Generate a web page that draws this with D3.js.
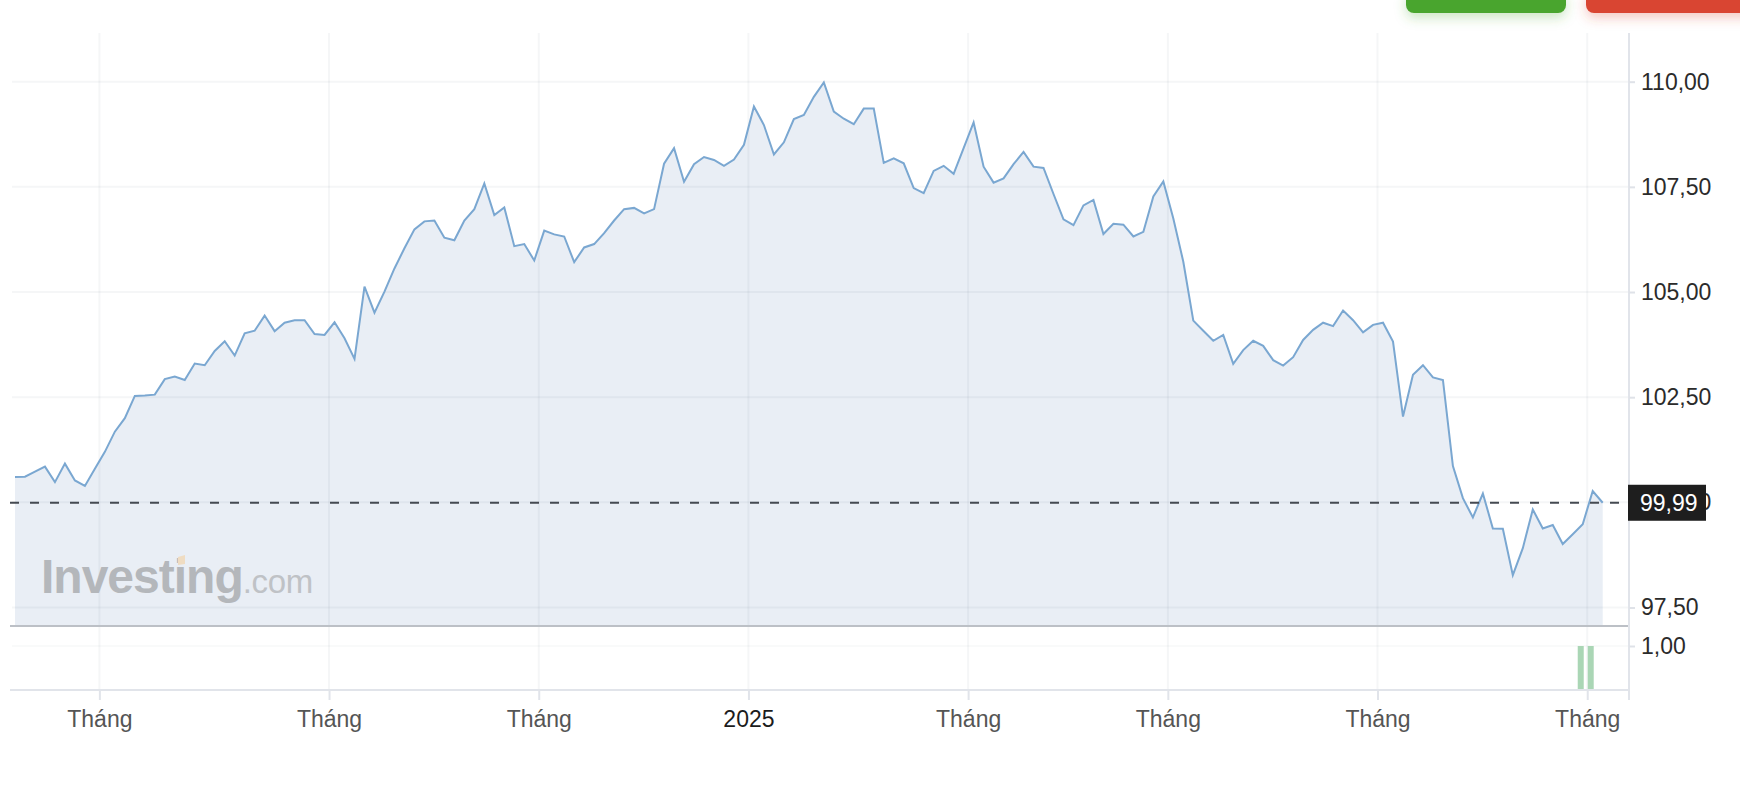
<!DOCTYPE html>
<html>
<head>
<meta charset="utf-8">
<script src="https://cdn.jsdelivr.net/npm/d3@7/dist/d3.min.js"></script>
<style>
  html, body { margin: 0; padding: 0; background: #fff; }
  svg { display: block; font-family: "Liberation Sans", Arial, Helvetica, sans-serif; }
</style>
</head>
<body>
<script>
// ---------------- DATA ----------------
const prices = [
  100.60,100.61,100.73,100.85,100.48,100.92,100.52,100.39,100.80,101.20,
  101.68,102.00,102.53,102.54,102.56,102.93,102.99,102.91,103.30,103.26,
  103.60,103.83,103.49,104.02,104.08,104.44,104.07,104.27,104.33,104.33,
  104.00,103.98,104.28,103.90,103.41,105.13,104.51,105.01,105.56,106.04,
  106.49,106.68,106.70,106.29,106.23,106.70,106.97,107.58,106.83,107.01,
  106.09,106.14,105.75,106.46,106.37,106.32,105.71,106.06,106.14,106.40,
  106.70,106.97,107.00,106.87,106.97,108.05,108.42,107.62,108.04,108.21,
  108.14,108.00,108.15,108.50,109.41,108.97,108.27,108.56,109.11,109.21,
  109.64,109.98,109.29,109.12,108.99,109.36,109.36,108.07,108.18,108.06,
  107.47,107.35,107.88,108.00,107.81,108.42,109.03,107.98,107.60,107.70,
  108.04,108.33,107.98,107.95,107.33,106.73,106.59,107.06,107.19,106.38,
  106.62,106.60,106.32,106.43,107.27,107.63,106.75,105.72,104.32,104.08,
  103.84,103.98,103.29,103.62,103.84,103.72,103.38,103.25,103.45,103.86,
  104.10,104.27,104.19,104.56,104.33,104.04,104.22,104.27,103.82,102.04,
  103.03,103.26,102.97,102.91,100.86,100.10,99.64,100.21,99.38,99.37,
  98.27,98.91,99.83,99.38,99.46,99.01,99.24,99.48,100.27,99.99
];
const lastPrice = 99.99;
// index of the first trading day of each month shown on the x axis
const monthStartIndex = [9, 32, 53, 74, 96, 116, 137, 158];
const monthLabels = ["Tháng", "Tháng", "Tháng", "2025", "Tháng", "Tháng", "Tháng", "Tháng"];
const yTicks = [97.5, 100, 102.5, 105, 107.5, 110];
const volumeIndex = [157, 158];
const volumeValues = [1, 1];
const volumeTicks = [1];

// ---------------- LAYOUT ----------------
const W = 1740, H = 790;
const plotLeft = 10, axisX = 1629;
const gridTop = 33, mainBottom = 626, volBottom = 690;

const svg = d3.select("body").append("svg").attr("width", W).attr("height", H);

const defs = svg.append("defs");
function glow(id, color) {
  const f = defs.append("filter").attr("id", id).attr("x", "-20%").attr("y", "-100%").attr("width", "140%").attr("height", "400%");
  f.append("feDropShadow").attr("dx", 0).attr("dy", 5).attr("stdDeviation", 6)
    .attr("flood-color", color).attr("flood-opacity", 0.28);
}
glow("gshadow", "#4aa52e");
glow("rshadow", "#d94532");

const x = d3.scaleLinear().domain([0, prices.length - 1]).range([15, 1602.7]);
const y = d3.scaleLinear().domain([97.5, 110]).range([607.5, 81.7]);
const yVol = d3.scaleLinear().domain([0, 1]).range([volBottom, 646]);
const fmt = v => d3.format(".2f")(v).replace(".", ",");
const tickPos = monthStartIndex.map(i => i - 0.55);

// top buttons
svg.append("rect").attr("x", 1406).attr("y", -12).attr("width", 160).attr("height", 25).attr("rx", 8)
  .attr("fill", "#4aa52e").attr("filter", "url(#gshadow)");
svg.append("rect").attr("x", 1586).attr("y", -12).attr("width", 180).attr("height", 25).attr("rx", 8)
  .attr("fill", "#d94532").attr("filter", "url(#rshadow)");

// area fill
const area = d3.area().x((d, i) => x(i)).y0(mainBottom).y1(d => y(d));
svg.append("path").datum(prices).attr("d", area).attr("fill", "#e9eef5");

// horizontal grid
svg.append("g").selectAll("line").data(yTicks).join("line")
  .attr("x1", plotLeft + 2).attr("x2", axisX).attr("y1", d => y(d)).attr("y2", d => y(d))
  .attr("stroke", "rgba(30,45,70,0.045)").attr("stroke-width", 2);
svg.append("g").selectAll("line").data(volumeTicks).join("line")
  .attr("x1", plotLeft + 2).attr("x2", axisX).attr("y1", d => yVol(d)).attr("y2", d => yVol(d))
  .attr("stroke", "rgba(30,45,70,0.035)").attr("stroke-width", 1.5);

// vertical grid
svg.append("g").selectAll("line").data(tickPos).join("line")
  .attr("x1", d => x(d)).attr("x2", d => x(d)).attr("y1", gridTop).attr("y2", volBottom)
  .attr("stroke", "rgba(30,45,70,0.045)").attr("stroke-width", 2);

// price line
const line = d3.line().x((d, i) => x(i)).y(d => y(d));
svg.append("path").datum(prices).attr("d", line).attr("fill", "none")
  .attr("stroke", "#7aa7d1").attr("stroke-width", 2).attr("stroke-linejoin", "miter");

// watermark
const wm = svg.append("text").attr("x", 41).attr("y", 593).attr("fill", "#b4b7bb");
wm.append("tspan").attr("font-size", 48).attr("font-weight", "bold").attr("letter-spacing", -1).text("Investing");
wm.append("tspan").attr("font-size", 33).attr("fill", "#bfc2c6").attr("letter-spacing", -0.3).text(".com");
// tan accent on the dot of the "i"
svg.append("path").attr("d", "M178,557 L185,555 L185,564 L178,565 Z").attr("fill", "#efdcc2");

// volume bars
svg.append("g").selectAll("rect").data(volumeIndex).join("rect")
  .attr("x", d => x(d) - 5).attr("width", 6)
  .attr("y", (d, i) => yVol(volumeValues[i])).attr("height", (d, i) => volBottom - yVol(volumeValues[i]))
  .attr("fill", "#aad6b5");

// panel separators
svg.append("line").attr("x1", plotLeft).attr("x2", axisX).attr("y1", mainBottom).attr("y2", mainBottom)
  .attr("stroke", "#bcc0c6").attr("stroke-width", 2);
svg.append("line").attr("x1", plotLeft).attr("x2", axisX).attr("y1", volBottom).attr("y2", volBottom)
  .attr("stroke", "#e1e4ea").attr("stroke-width", 2);

// right axis line
svg.append("line").attr("x1", axisX).attr("x2", axisX).attr("y1", gridTop).attr("y2", 700)
  .attr("stroke", "#e1e4ea").attr("stroke-width", 2);

// y axis
const yAxis = svg.append("g").attr("transform", `translate(${axisX},0)`)
  .call(d3.axisRight(y).tickValues(yTicks).tickFormat(fmt).tickSize(6).tickPadding(6));
const volAxis = svg.append("g").attr("transform", `translate(${axisX},0)`)
  .call(d3.axisRight(yVol).tickValues(volumeTicks).tickFormat(fmt).tickSize(6).tickPadding(6));
[yAxis, volAxis].forEach(g => {
  g.select(".domain").remove();
  g.selectAll(".tick line").attr("stroke", "#dfe2e8").attr("stroke-width", 2);
  g.selectAll(".tick text").attr("font-size", 23).attr("fill", "#2b2b2b")
    .attr("font-family", "'Liberation Sans', Arial, Helvetica, sans-serif");
});

// x axis
const xAxis = svg.append("g").attr("transform", `translate(0,${volBottom})`)
  .call(d3.axisBottom(x).tickValues(tickPos).tickFormat((d, i) => monthLabels[i]).tickSize(10).tickPadding(11));
xAxis.select(".domain").remove();
xAxis.selectAll(".tick line").attr("stroke", "#e1e4ea").attr("stroke-width", 2);
xAxis.selectAll(".tick text").attr("font-size", 23)
  .attr("font-family", "'Liberation Sans', Arial, Helvetica, sans-serif")
  .attr("fill", (d, i) => monthLabels[i] === "2025" ? "#1c1c1c" : "#555");

// last price dashed line
svg.append("line").attr("x1", plotLeft).attr("x2", axisX).attr("y1", y(lastPrice)).attr("y2", y(lastPrice))
  .attr("stroke", "#454a52").attr("stroke-width", 1.8).attr("stroke-dasharray", "9,11");

// last price label (covers most of the 100,00 axis label, as in the original)
const lp = svg.append("g").attr("transform", `translate(${axisX - 1},${y(lastPrice)})`);
lp.append("rect").attr("x", 0).attr("y", -18).attr("width", 78).attr("height", 36).attr("fill", "#1e1e1e");
lp.append("text").attr("x", 12).attr("y", 0).attr("dy", "0.35em").attr("font-size", 23).attr("fill", "#fff")
  .text(fmt(lastPrice));
</script>
</body>
</html>
